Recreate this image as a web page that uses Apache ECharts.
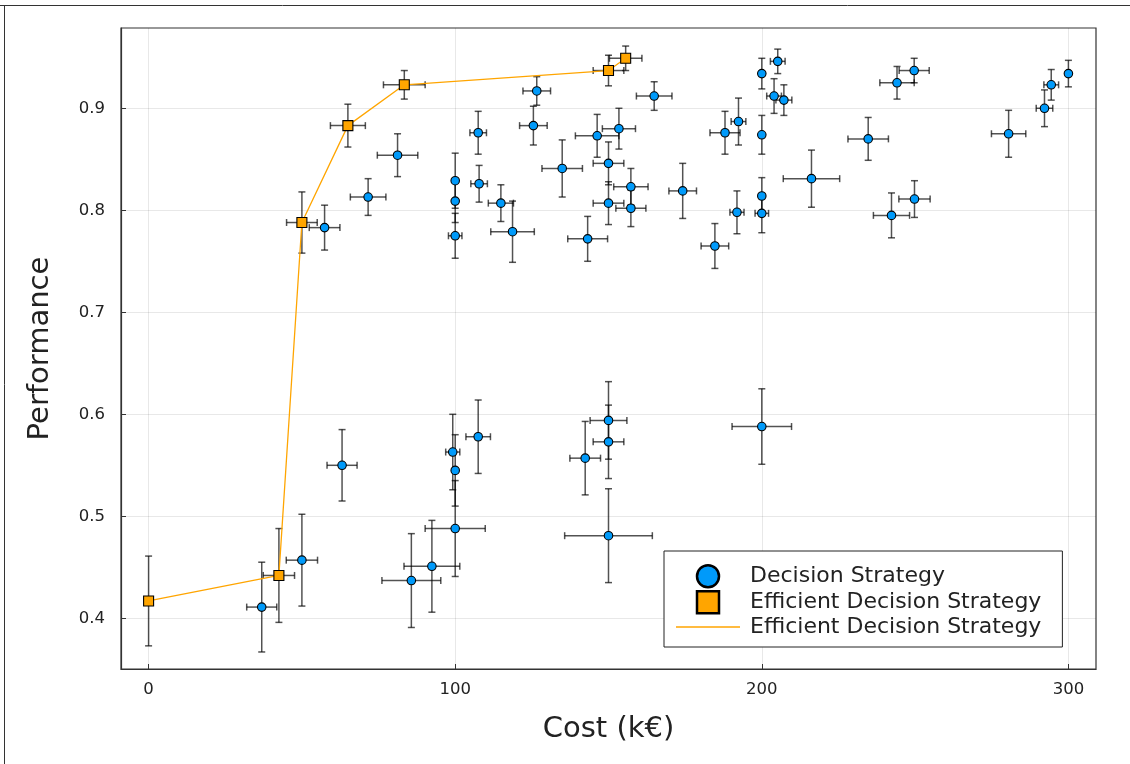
<!DOCTYPE html>
<html>
<head>
<meta charset="utf-8">
<title>Cost vs Performance</title>
<script src="https://cdn.jsdelivr.net/npm/echarts@6/dist/echarts.min.js"></script>
<style>
  html, body { margin: 0; padding: 0; background: #fff; }
  #chart { width: 1130px; height: 764px; }
</style>
</head>
<body>
<div id="chart"></div>
<script>
// All decision strategies: cost (k€), performance and their uncertainties
const stratCost = [
  57.4, 71.6, 81.2, 100, 100, 100, 107.5, 107.8, 114.9, 118.7,
  126.6, 125.5, 134.9, 146.3, 153.4, 164.9, 150, 150, 157.3, 157.3,
  143.2, 174.2, 184.7, 188.0, 192.4, 200, 200, 200, 200, 191.9,
  204.0, 205.2, 207.2, 216.2, 234.7, 242.3, 244.1, 249.7, 249.8, 280.5,
  292.2, 294.4, 300,
  36.9, 50, 63.1, 85.7, 92.4, 99.2, 100, 100, 107.5, 142.4,
  150, 150, 150, 200
];
const stratPerf = [
  0.783, 0.813, 0.854, 0.829, 0.809, 0.775, 0.876, 0.826, 0.807, 0.779,
  0.917, 0.883, 0.841, 0.873, 0.880, 0.912, 0.846, 0.807, 0.823, 0.802,
  0.772, 0.819, 0.765, 0.876, 0.887, 0.934, 0.874, 0.814, 0.797, 0.798,
  0.912, 0.946, 0.908, 0.831, 0.870, 0.795, 0.925, 0.937, 0.811, 0.875,
  0.900, 0.923, 0.934,
  0.411, 0.457, 0.550, 0.437, 0.451, 0.563, 0.545, 0.488, 0.578, 0.557,
  0.594, 0.573, 0.481, 0.588
];
const stratCostErr = [
  5.0, 5.8, 6.6, 0, 0, 2.2, 2.7, 2.7, 4.1, 7.1,
  4.5, 4.5, 6.6, 7.1, 5.4, 5.8, 5.0, 5.0, 5.6, 4.9,
  6.5, 4.5, 4.5, 4.9, 2.4, 0, 0, 0, 2.2, 2.3,
  2.4, 2.4, 2.6, 9.2, 6.6, 5.9, 5.6, 4.9, 5.1, 5.6,
  2.7, 2.4, 0,
  4.9, 5.1, 4.9, 9.6, 9.1, 2.3, 0, 9.8, 4.0, 5.0,
  6.0, 5.0, 14.3, 9.7
];
const stratPerfErr = [
  0.022, 0.018, 0.021, 0.027, 0.021, 0.022, 0.021, 0.018, 0.018, 0.030,
  0.014, 0.019, 0.028, 0.021, 0.020, 0.014, 0.021, 0.021, 0.018, 0.018,
  0.022, 0.027, 0.022, 0.021, 0.023, 0.015, 0.019, 0.018, 0.019, 0.021,
  0.017, 0.012, 0.015, 0.028, 0.021, 0.022, 0.016, 0.012, 0.018, 0.023,
  0.018, 0.015, 0.013,
  0.044, 0.045, 0.035, 0.046, 0.045, 0.037, 0.035, 0.047, 0.036, 0.036,
  0.038, 0.036, 0.046, 0.037
];

// Efficient (Pareto) strategies
const effCost = [0, 42.5, 50, 65, 83.4, 150, 155.6];
const effPerf = [0.417, 0.442, 0.788, 0.883, 0.923, 0.937, 0.949];
const effCostErr = [0, 5.1, 5.0, 5.7, 6.8, 5.0, 5.3];
const effPerfErr = [0.044, 0.046, 0.030, 0.021, 0.014, 0.015, 0.012];

// Axis ticks
const xTicks = [0, 100, 200, 300];
const yTicks = [0.4, 0.5, 0.6, 0.7, 0.8, 0.9];

const BLUE = '#009AFA';
const ORANGE = '#FFA500';
const ERR_COLOR = 'rgba(0,0,0,0.68)';
const FONT = 'DejaVu Sans';

// Symmetric error bars with end caps, in data coordinates
function errorBars(params, api) {
  const x = api.value(0), y = api.value(1);
  const xe = api.value(2), ye = api.value(3);
  const c = api.coord([x, y]);
  const cap = 3.5;
  const style = { stroke: ERR_COLOR, lineWidth: 1.5 };
  const kids = [];
  if (ye > 0) {
    const t = api.coord([x, y + ye])[1];
    const b = api.coord([x, y - ye])[1];
    kids.push({ type: 'line', shape: { x1: c[0], y1: t, x2: c[0], y2: b }, style });
    kids.push({ type: 'line', shape: { x1: c[0] - cap, y1: t, x2: c[0] + cap, y2: t }, style });
    kids.push({ type: 'line', shape: { x1: c[0] - cap, y1: b, x2: c[0] + cap, y2: b }, style });
  }
  if (xe > 0) {
    const l = api.coord([x - xe, y])[0];
    const r = api.coord([x + xe, y])[0];
    kids.push({ type: 'line', shape: { x1: l, y1: c[1], x2: r, y2: c[1] }, style });
    kids.push({ type: 'line', shape: { x1: l, y1: c[1] - cap, x2: l, y2: c[1] + cap }, style });
    kids.push({ type: 'line', shape: { x1: r, y1: c[1] - cap, x2: r, y2: c[1] + cap }, style });
  }
  return { type: 'group', children: kids };
}

const stratRows = stratCost.map((v, i) => [v, stratPerf[i], stratCostErr[i], stratPerfErr[i]]);
const effRows = effCost.map((v, i) => [v, effPerf[i], effCostErr[i], effPerfErr[i]]);

const chart = echarts.init(document.getElementById('chart'), null, { renderer: 'canvas' });

chart.setOption({
  animation: false,
  backgroundColor: '#fff',
  textStyle: { fontFamily: FONT },
  grid: {
    left: 121, right: 34, top: 28, bottom: 95,
    show: true, borderColor: '#333', borderWidth: 1.2, backgroundColor: '#fff'
  },
  graphic: [
    { type: 'line', shape: { x1: 0, y1: 5.5, x2: 1130, y2: 5.5 }, style: { stroke: '#333', lineWidth: 1 }, silent: true },
    { type: 'line', shape: { x1: 4.5, y1: 5, x2: 4.5, y2: 764 }, style: { stroke: '#333', lineWidth: 1 }, silent: true }
  ],
  xAxis: {
    type: 'value', min: -9, max: 309,
    name: 'Cost (k€)', nameLocation: 'middle', nameGap: 46,
    nameTextStyle: { fontSize: 29, color: '#222', fontFamily: FONT },
    axisLine: { show: true, onZero: false, lineStyle: { color: '#333', width: 1.2 } },
    axisTick: { show: true, inside: true, length: 5, customValues: xTicks, lineStyle: { color: '#333' } },
    axisLabel: { customValues: xTicks, fontSize: 16.5, color: '#222', margin: 12, fontFamily: FONT },
    splitLine: { show: true, lineStyle: { color: 'rgba(0,0,0,0.09)', width: 1 } }
  },
  yAxis: {
    type: 'value', min: 0.3503, max: 0.9787,
    name: 'Performance', nameLocation: 'middle', nameGap: 66,
    nameTextStyle: { fontSize: 29, color: '#222', fontFamily: FONT },
    axisLine: { show: true, onZero: false, lineStyle: { color: '#333', width: 1.2 } },
    axisTick: { show: true, inside: true, length: 5, customValues: yTicks, lineStyle: { color: '#333' } },
    axisLabel: { customValues: yTicks, fontSize: 16.5, color: '#222', margin: 16, fontFamily: FONT,
                 formatter: v => v.toFixed(1) },
    splitLine: { show: true, lineStyle: { color: 'rgba(0,0,0,0.09)', width: 1 } }
  },
  legend: {
    orient: 'vertical',
    left: 664, top: 551,
    padding: [13, 14, 9, 12],
    itemWidth: 64, itemHeight: 22, itemGap: 1.5,
    symbolKeepAspect: true,
    backgroundColor: '#fff', borderColor: '#222', borderWidth: 1, borderRadius: 0,
    textStyle: { fontSize: 22, color: '#222', fontFamily: FONT, padding: [0, 0, 0, 5] },
    selectedMode: false,
    data: [
      { name: 'Decision Strategy', icon: 'circle',
        itemStyle: { color: BLUE, borderColor: '#000', borderWidth: 2.5 } },
      { name: 'Efficient Decision Strategy', icon: 'path://M0,0 L10,0 L10,10 L0,10 Z',
        itemStyle: { color: ORANGE, borderColor: '#000', borderWidth: 2.5 } },
      { name: 'Efficient Decision Strategy ', icon: 'path://M0,0 L100,0 L100,2.2 L0,2.2 Z',
        itemStyle: { color: ORANGE, borderWidth: 0 } }
    ]
  },
  series: [
    {
      type: 'custom', name: 'stratErr', silent: true, z: 2,
      renderItem: errorBars, encode: { x: 0, y: 1 }, data: stratRows
    },
    {
      type: 'scatter', name: 'Decision Strategy', z: 3,
      symbol: 'circle', symbolSize: 8.5,
      itemStyle: { color: BLUE, borderColor: '#000', borderWidth: 1.1, opacity: 1 },
      data: stratCost.map((v, i) => [v, stratPerf[i]])
    },
    {
      type: 'custom', name: 'effErr', silent: true, z: 4,
      renderItem: errorBars, encode: { x: 0, y: 1 }, data: effRows
    },
    {
      type: 'line', name: 'Efficient Decision Strategy ', z: 5,
      symbol: 'none', showSymbol: false,
      lineStyle: { color: ORANGE, width: 1.3 },
      itemStyle: { color: ORANGE },
      data: effCost.map((v, i) => [v, effPerf[i]])
    },
    {
      type: 'scatter', name: 'Efficient Decision Strategy', z: 6,
      symbol: 'rect', symbolSize: 10,
      itemStyle: { color: ORANGE, borderColor: '#000', borderWidth: 1.1, opacity: 1 },
      data: effCost.map((v, i) => [v, effPerf[i]])
    }
  ]
});
</script>
</body>
</html>
